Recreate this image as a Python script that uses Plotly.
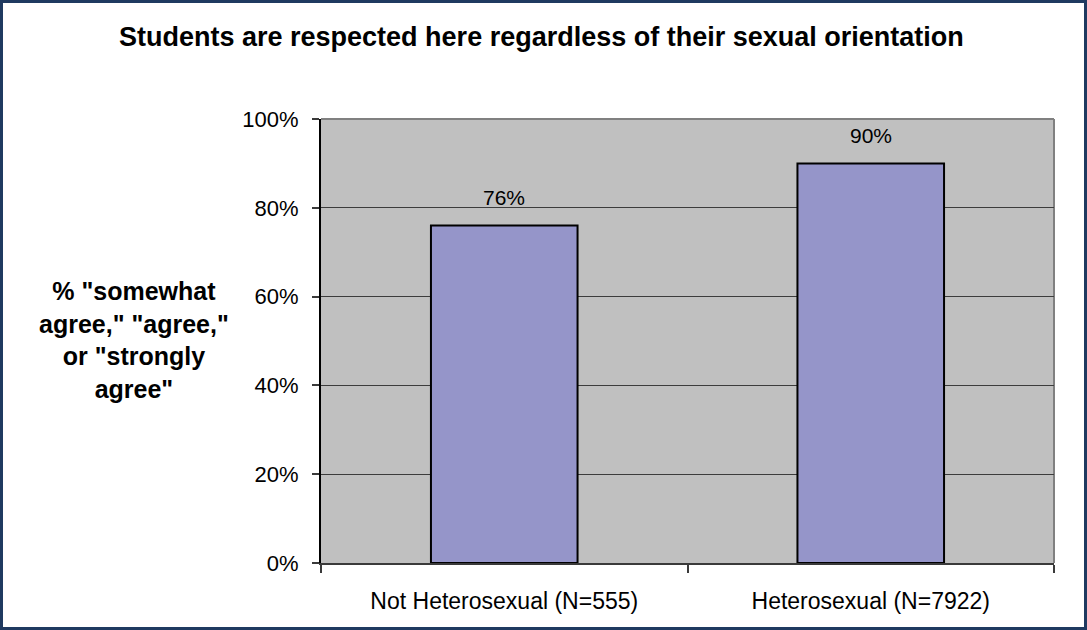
import plotly.graph_objects as go

# Survey result: share of students agreeing with the statement, by group
categories = ["Not Heterosexual (N=555)", "Heterosexual (N=7922)"]
agree_pct = [76, 90]
y_ticks = [0, 20, 40, 60, 80, 100]

title_text = "Students are respected here regardless of their sexual orientation"
y_title_lines = ['% "somewhat', 'agree," "agree,"', 'or "strongly', 'agree"']

W, H = 1087, 630
ML, MR, MT, MB = 321, 33, 119, 67
PW, PH = W - ML - MR, H - MT - MB

FONT = "Liberation Sans, Arial, sans-serif"


def px_x(p):
    return (p - ML) / PW


def px_y(p):
    return 1 - (p - MT) / PH


fig = go.Figure()
fig.add_trace(go.Bar(
    x=categories,
    y=agree_pct,
    marker=dict(color="#9595C9", line=dict(color="#000000", width=2)),
    hoverinfo="skip",
))

# value labels above each bar
for cat, v in zip(categories, agree_pct):
    fig.add_annotation(
        x=cat, y=v, xref="x", yref="y",
        text=f"{v}%", showarrow=False,
        yanchor="middle", yshift=28,
        font=dict(family=FONT, size=21, color="#000000"),
    )

# chart title
fig.add_annotation(
    x=px_x(541), y=px_y(37), xref="paper", yref="paper",
    text=f"<b>{title_text}</b>", showarrow=False,
    xanchor="center", yanchor="middle",
    font=dict(family=FONT, size=27, color="#000000"),
)

# multi-line value-axis title
fig.add_annotation(
    x=px_x(134), y=px_y(340), xref="paper", yref="paper",
    text="<b>" + "<br>".join(y_title_lines) + "</b>", showarrow=False,
    xanchor="center", yanchor="middle", align="center",
    font=dict(family=FONT, size=25, color="#000000"),
)

shapes = [
    # gray frame on the plot area's top and right
    dict(type="line", xref="paper", yref="paper", x0=0, x1=1, y0=1, y1=1,
         line=dict(color="#808080", width=2), layer="below"),
    dict(type="line", xref="paper", yref="paper", x0=1, x1=1, y0=0, y1=1,
         line=dict(color="#808080", width=2), layer="below"),
    # outer chart border
    dict(type="rect", xref="paper", yref="paper",
         x0=px_x(1.5), x1=px_x(W - 1.5), y0=px_y(H - 1.5), y1=px_y(1.5),
         line=dict(color="#1F3A60", width=3)),
]

fig.update_layout(
    width=W, height=H,
    margin=dict(l=ML, r=MR, t=MT, b=MB, pad=0),
    paper_bgcolor="#FFFFFF",
    plot_bgcolor="#C0C0C0",
    showlegend=False,
    bargap=0.6,
    shapes=shapes,
    font=dict(family=FONT, color="#000000"),
)

fig.update_xaxes(
    type="category",
    showline=True, linecolor="#3A3A3A", linewidth=2,
    ticks="outside", tickson="boundaries", ticklen=8, tickcolor="#3A3A3A", tickwidth=2,
    tickfont=dict(family=FONT, size=23, color="#000000"),
    ticklabelstandoff=16,
    showgrid=False,
)

fig.update_yaxes(
    range=[0, 100],
    tickvals=y_ticks,
    ticktext=[f"{t}%" for t in y_ticks],
    showline=True, linecolor="#000000", linewidth=2,
    ticks="outside", ticklen=7, tickcolor="#3A3A3A", tickwidth=2,
    tickfont=dict(family=FONT, size=22, color="#000000"),
    ticklabelstandoff=9,
    showgrid=True, gridcolor="#3C3C3C", gridwidth=1,
    zeroline=False,
)

fig.write_html("out.html")
